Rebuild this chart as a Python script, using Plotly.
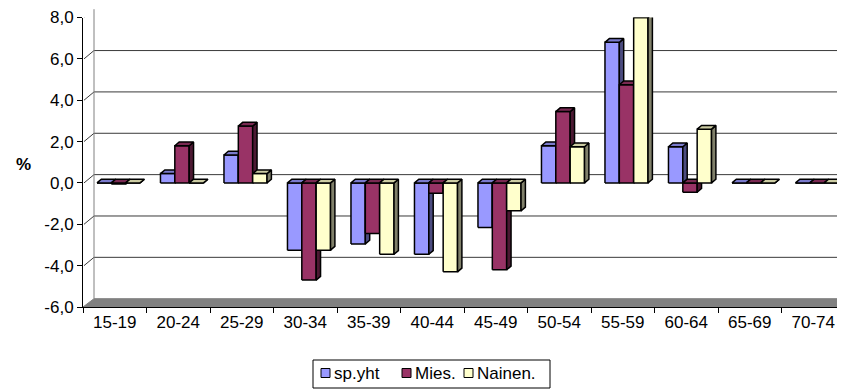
import plotly.graph_objects as go

# age groups and change (%) per series
categories = ["15-19", "20-24", "25-29", "30-34", "35-39", "40-44",
              "45-49", "50-54", "55-59", "60-64", "65-69", "70-74"]
sp_yht = [0.0, 0.45, 1.35, -3.25, -2.95, -3.45, -2.15, 1.8, 6.8, 1.75, 0.0, 0.0]
mies = [-0.05, 1.8, 2.75, -4.7, -2.45, -0.5, -4.2, 3.45, 4.75, -0.45, 0.0, 0.0]
nainen = [0.0, 0.0, 0.45, -3.25, -3.45, -4.3, -1.35, 1.75, 8.0, 2.6, 0.0, 0.0]

y_ticks = [-6, -4, -2, 0, 2, 4, 6, 8]
y_ticktext = ["-6,0", "-4,0", "-2,0", "0,0", "2,0", "4,0", "6,0", "8,0"]

# the page body has an 8px margin, so the figure is drawn 8px in from the corner
OFF = 8
W, H = 845 - OFF, 390 - OFF
# front plot box in window pixels
PX0 = 83
PY_TOP, PY_BOT = 17.5, 307
# back wall shift in pixels
DXP, DYP = 11, 8.3

series = [
    ("sp.yht", sp_yht, "#9999FF", "#4C4C80", "#7A7ACC"),
    ("Mies.", mies, "#993366", "#4C1933", "#7A2952"),
    ("Nainen.", nainen, "#FFFFCC", "#80806A", "#CCCCA3"),
]

bar_w = 0.226
start = -0.28
depth_x = 0.069
depth_y = 0.18

fig = go.Figure()

for k, (name, vals, col, side_col, top_col) in enumerate(series):
    fx, fy, sx, sy, tx, ty = [], [], [], [], [], []
    for i, v in enumerate(vals):
        a = i + start + k * bar_w
        b = a + bar_w
        lo, hi = min(v, 0), max(v, 0)
        fx += [a, b, b, a, a, None]
        fy += [lo, lo, hi, hi, lo, None]
        sx += [b, b + depth_x, b + depth_x, b, b, None]
        sy += [lo, lo + depth_y, hi + depth_y, hi, lo, None]
        tx += [a, b, b + depth_x, a + depth_x, a, None]
        ty += [hi, hi, hi + depth_y, hi + depth_y, hi, None]
    for xs, ys, c in [(fx, fy, col), (sx, sy, side_col), (tx, ty, top_col)]:
        fig.add_trace(go.Scatter(x=xs, y=ys, mode="lines", fill="toself",
                                 fillcolor=c, line=dict(color="black", width=1.5),
                                 showlegend=False, hoverinfo="skip"))

shapes = []
px = lambda x: (x - OFF) / W
py = lambda y: (H - (y - OFF)) / H

# back wall gridlines and left wall diagonals
for v in y_ticks:
    if v == -6:
        continue
    gc = "#808080" if v == 8 else "#3a3a3a"
    shapes.append(dict(type="line", xref="paper", x0=px(PX0 + DXP), x1=1,
                       yref="y", ysizemode="pixel", yanchor=v, y0=DYP, y1=DYP,
                       line=dict(color=gc, width=1), layer="below"))
    shapes.append(dict(type="line", xref="paper", x0=px(PX0 + 1), x1=px(PX0 + DXP),
                       yref="y", ysizemode="pixel", yanchor=v, y0=0, y1=DYP,
                       line=dict(color=gc, width=1), layer="below"))
# back wall left edge
shapes.append(dict(type="line", xref="paper", x0=px(PX0 + DXP), x1=px(PX0 + DXP),
                   yref="paper", y0=py(PY_BOT - DYP), y1=py(PY_TOP - DYP),
                   line=dict(color="#808080", width=1), layer="below"))
# floor
floor_path = "M {} {} L {} {} L {} {} L {} {} Z".format(
    px(PX0), py(PY_BOT), px(PX0 + DXP), py(PY_BOT - DYP),
    1, py(PY_BOT - DYP), 1, py(PY_BOT))
shapes.append(dict(type="path", xref="paper", yref="paper", path=floor_path,
                   fillcolor="#808080", line=dict(color="#808080", width=1),
                   layer="below"))

# legend box: key squares and labels
annotations = [dict(text="<b>%</b>", x=px(24), y=py(164.5), xref="paper",
                    yref="paper", xanchor="center", yanchor="middle",
                    showarrow=False, font=dict(size=17))]
LEG_X0, LEG_X1, LEG_Y0, LEG_Y1 = 313, 550, 360, 388
shapes.append(dict(type="rect", xref="paper", yref="paper",
                   x0=px(LEG_X0), x1=px(LEG_X1), y0=py(LEG_Y1), y1=py(LEG_Y0),
                   line=dict(color="black", width=1), fillcolor="white"))
key_x = [321, 402, 464]
for (name, vals, col, side_col, top_col), kx in zip(series, key_x):
    shapes.append(dict(type="rect", xref="paper", yref="paper",
                       x0=px(kx), x1=px(kx + 9), y0=py(377.5), y1=py(368.5),
                       line=dict(color="black", width=1), fillcolor=col))
    annotations.append(dict(text=name, x=px(kx + 10.5), y=py(373.5), xref="paper",
                            yref="paper", xanchor="left", yanchor="middle",
                            showarrow=False, font=dict(size=17)))

fig.update_layout(
    width=W, height=H,
    margin=dict(l=0, r=0, t=0, b=0, autoexpand=False),
    paper_bgcolor="white", plot_bgcolor="rgba(0,0,0,0)",
    font=dict(family="Liberation Sans, Arial, sans-serif", color="black"),
    shapes=shapes,
    annotations=annotations,
    showlegend=False,
    xaxis=dict(domain=[px(PX0), 1], range=[-0.5, 11.5], showgrid=False,
               zeroline=False, showline=True, linecolor="black", linewidth=1,
               tickmode="array", tickvals=list(range(len(categories))),
               ticktext=categories, ticks="", tickfont=dict(size=17),
               automargin=False,
               minor=dict(ticks="outside", ticklen=5, tickcolor="black",
                          tickmode="linear", tick0=-0.5, dtick=1, showgrid=False)),
    yaxis=dict(domain=[py(PY_BOT), py(PY_TOP)], range=[-6, 8.0], showgrid=False,
               zeroline=False, showline=True, linecolor="black", linewidth=1,
               tickmode="array", tickvals=y_ticks, ticktext=y_ticktext,
               automargin=False,
               ticks="outside", ticklen=5, tickcolor="black", tickfont=dict(size=17)),
)

fig.write_html("out.html")
